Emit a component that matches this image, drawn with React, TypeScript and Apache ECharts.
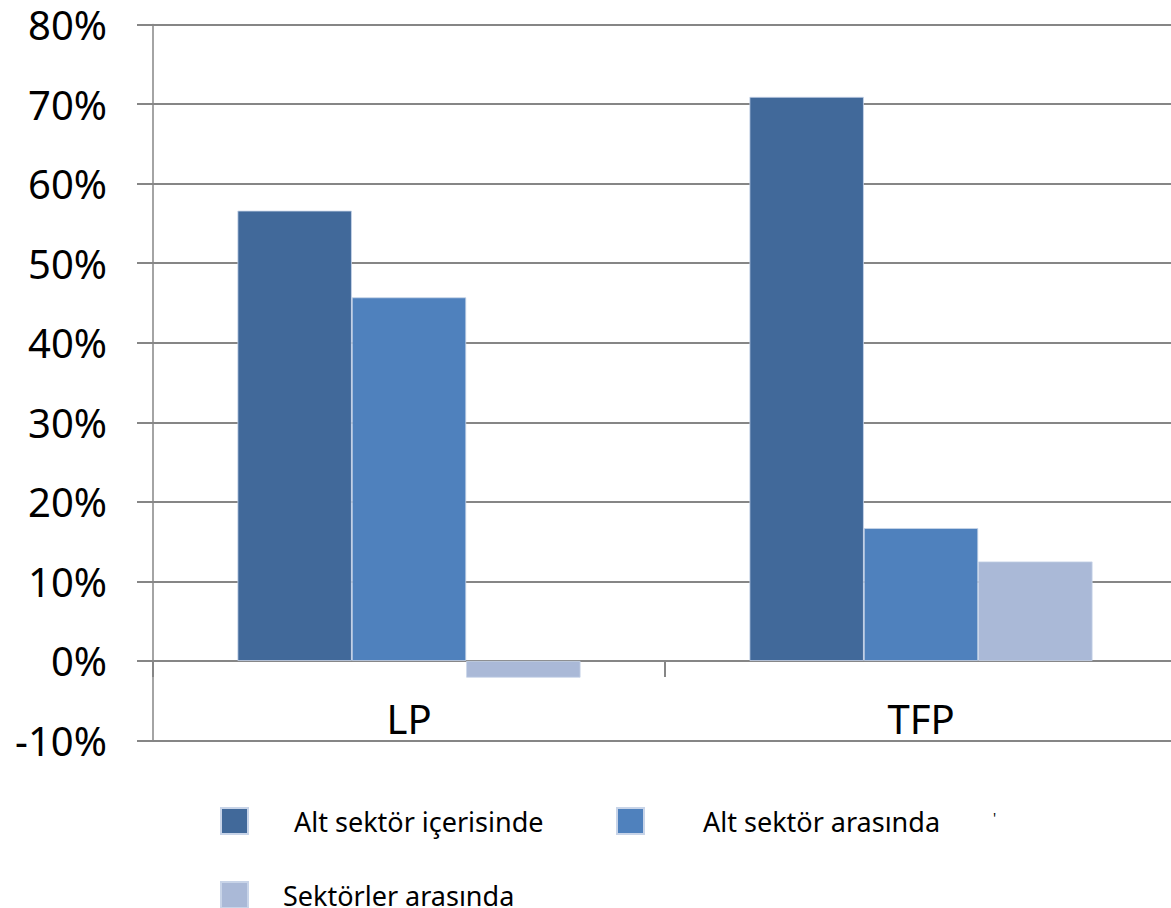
import React, { useEffect, useRef } from "react";
import * as echarts from "echarts";

const categories = ["LP", "TFP"];
const seriesNames = ["Alt sektör içerisinde", "Alt sektör arasında", "Sektörler arasında"];
const withinSub = [56.6, 70.9];
const betweenSub = [45.7, 16.7];
const betweenSectors = [-2.1, 12.5];
const colors = ["#41699A", "#4F81BD", "#AAB9D7"];
const yMin = -10;
const yMax = 80;
const yInterval = 10;

const FONT = "Noto Sans";

export default function App() {
  const ref = useRef<HTMLDivElement>(null);
  useEffect(() => {
    if (!ref.current) return;
    const chart = echarts.init(ref.current, null, { renderer: "svg" });
    const values = [withinSub, betweenSub, betweenSectors];
    const legendBase = (name: string, left: number, top: number, padLeft: number) => ({
      data: [name],
      left,
      top,
      padding: 0,
      itemWidth: 27,
      itemHeight: 26,
      icon: "rect",
      selectedMode: false,
      textStyle: {
        fontFamily: FONT,
        fontSize: 27,
        lineHeight: 26,
        color: "#000",
        padding: [0, 0, 0, padLeft],
      },
    });
    chart.setOption({
      animation: false,
      backgroundColor: "#fff",
      textStyle: { fontFamily: FONT },
      grid: { left: 153, top: 24.5, width: 1024, height: 716, containLabel: false },
      legend: [
        legendBase(seriesNames[0], 220, 807, 41),
        legendBase(seriesNames[1], 616, 807, 54),
        legendBase(seriesNames[2], 220, 881, 30),
      ],
      xAxis: {
        type: "category",
        data: categories,
        axisLine: { onZero: true, lineStyle: { color: "#868686", width: 2 } },
        axisTick: { show: true, length: 16, lineStyle: { color: "#868686", width: 2 } },
        axisLabel: { fontFamily: FONT, fontSize: 40, color: "#000", margin: -42 },
        splitLine: { show: false },
      },
      yAxis: {
        type: "value",
        min: yMin,
        max: yMax,
        interval: yInterval,
        axisLine: { show: true, lineStyle: { color: "#868686", width: 1.5 } },
        axisTick: { show: true, length: 16, lineStyle: { color: "#868686", width: 2 } },
        axisLabel: {
          fontFamily: FONT,
          fontSize: 40,
          lineHeight: 36,
          color: "#000",
          margin: 46,
          formatter: (v: number) => `${v}%`,
        },
        splitLine: { show: true, lineStyle: { color: "#868686", width: 2 } },
      },
      series: seriesNames.map((name, i) => ({
        name,
        type: "bar",
        data: values[i],
        barGap: "0%",
        barCategoryGap: "33%",
        itemStyle: { color: colors[i], borderColor: "#c8d4e8", borderWidth: 0.8 },
      })),
      graphic: [
        {
          type: "text",
          left: 993,
          top: 810,
          style: { text: "'", fontSize: 14, fill: "#000", fontFamily: FONT },
        },
      ],
    });
    return () => chart.dispose();
  }, []);
  return (
    <div
      style={{
        position: "fixed",
        left: 0,
        top: 0,
        width: 1171,
        height: 908,
        overflow: "hidden",
        background: "#fff",
      }}
    >
      <div ref={ref} style={{ width: 1190, height: 908 }} />
    </div>
  );
}
